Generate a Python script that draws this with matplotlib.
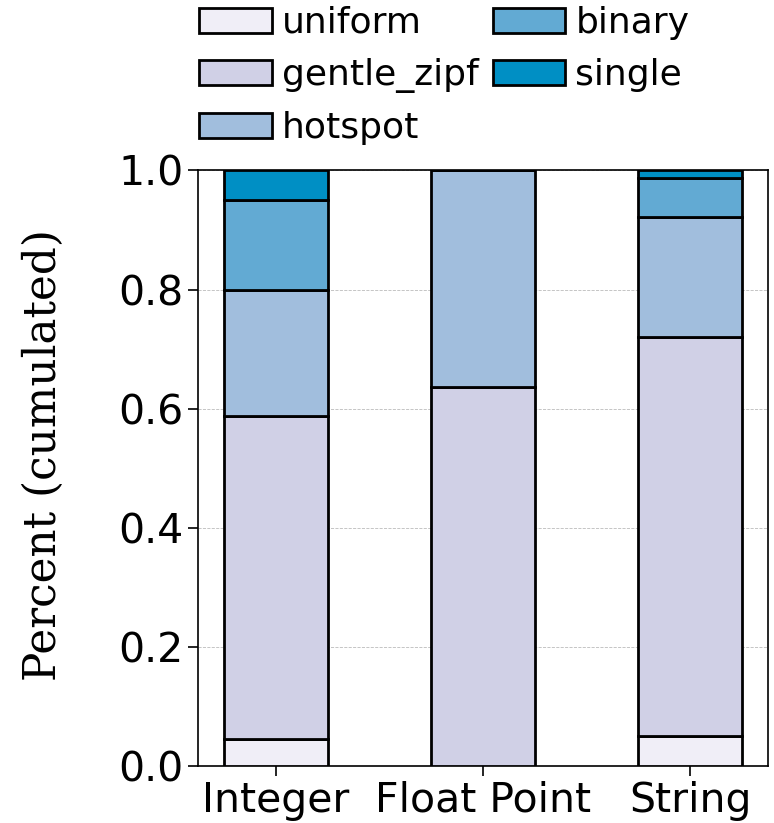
import numpy as np
import matplotlib
matplotlib.use('Agg')
import matplotlib.pyplot as plt

categories = ['Integer', 'Float Point', 'String']
series = ['uniform', 'gentle_zipf', 'hotspot', 'binary', 'single']
uniform = [0.045, 0.0, 0.050]
gentle_zipf = [0.542, 0.637, 0.670]
hotspot = [0.213, 0.363, 0.201]
binary = [0.150, 0.0, 0.067]
single = [0.050, 0.0, 0.012]
colors = ['#f0eef7', '#d0d0e6', '#a1bedd', '#62aad3', '#008fc4']

values = [uniform, gentle_zipf, hotspot, binary, single]

fig = plt.figure(figsize=(7.74, 8.23), dpi=100)
ax = fig.add_axes([0.256, 0.069, 0.736, 0.724])

x = np.arange(len(categories))
bottom = np.zeros(len(categories))
for name, vals, c in zip(series, values, colors):
    vals = np.array(vals)
    ax.bar(x, vals, 0.5, bottom=bottom, color=c, edgecolor='black',
           linewidth=2, label=name, zorder=3)
    bottom += vals

ax.set_ylim(0, 1.0)
ax.set_yticks(np.arange(0, 1.01, 0.2))
ax.set_xticks(x)
ax.set_xticklabels(categories)
ax.tick_params(labelsize=29.5, length=7, width=1.2)
ax.yaxis.grid(True, linestyle='--', color='#bbbbbb', linewidth=0.6, zorder=0)
ax.set_ylabel('Percent (cumulated)', family='DejaVu Serif', fontsize=31.5)
ax.yaxis.set_label_coords(-0.233, 0.522)
for s in ax.spines.values():
    s.set_linewidth(1.2)

ax.legend(loc='lower left', bbox_to_anchor=(-0.042, 1.0), ncol=2, frameon=False,
          fontsize=26, handlelength=2.0, handletextpad=0.28, columnspacing=0.4,
          labelspacing=0.5, borderaxespad=0.3)

fig.savefig('out.png', dpi=100)
